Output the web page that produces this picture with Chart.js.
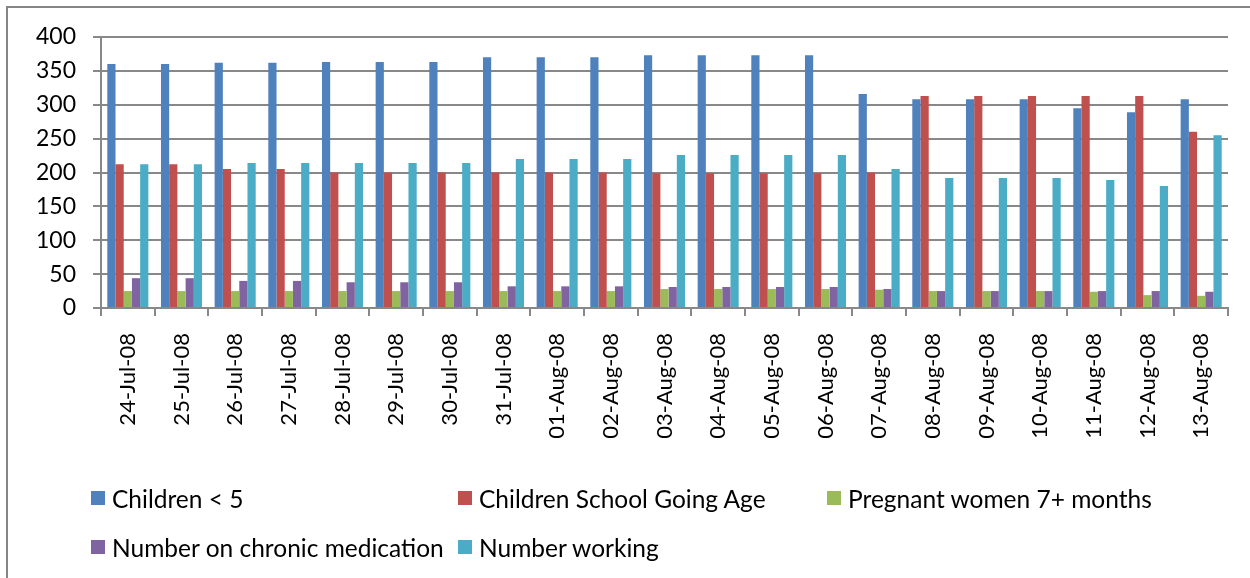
<!DOCTYPE html>
<html>
<head>
<meta charset="utf-8">
<script src="https://cdn.jsdelivr.net/npm/chart.js@4.4.1/dist/chart.umd.min.js"></script>
<style>
  html, body { margin: 0; padding: 0; background: #fff; }
  #wrap { position: relative; width: 1250px; height: 578px; overflow: hidden; }
  #frame { position: absolute; left: 6px; top: 6px; right: 0; bottom: 0;
           border-left: 2px solid #868686; border-top: 2px solid #868686; }
  #legend { position: absolute; left: 0; top: 0; width: 1250px; height: 578px; pointer-events: none; }
  .item { position: absolute; display: flex; align-items: center; height: 30px;
          font-family: Lato, sans-serif; font-size: 24.5px; color: #000; white-space: nowrap; }
  .box { width: 14px; height: 14px; margin-right: 7px; }
</style>
</head>
<body>
<div id="wrap">
  <canvas id="chart" width="1250" height="578"></canvas>
  <div id="frame"></div>
  <div id="legend"></div>
</div>
<script>
// ======================
// Data
// ======================
const dates = [
  "24-Jul-08", "25-Jul-08", "26-Jul-08", "27-Jul-08", "28-Jul-08", "29-Jul-08", "30-Jul-08",
  "31-Jul-08", "01-Aug-08", "02-Aug-08", "03-Aug-08", "04-Aug-08", "05-Aug-08", "06-Aug-08",
  "07-Aug-08", "08-Aug-08", "09-Aug-08", "10-Aug-08", "11-Aug-08", "12-Aug-08", "13-Aug-08"
];

const childrenUnder5 = [360, 360, 362, 362, 363, 363, 363, 370, 370, 370, 373, 373, 373, 373, 316, 308, 308, 308, 295, 289, 308];
const childrenSchool = [212, 212, 205, 205, 200, 200, 200, 200, 200, 200, 199, 199, 199, 199, 200, 313, 313, 313, 313, 313, 260];
const pregnantWomen  = [25, 25, 25, 25, 25, 25, 25, 25, 25, 25, 28, 28, 28, 28, 27, 25, 25, 25, 24, 19, 18];
const chronicMeds    = [44, 44, 40, 40, 38, 38, 38, 32, 32, 32, 31, 31, 31, 31, 28, 25, 25, 25, 25, 25, 24];
const numberWorking  = [212, 212, 214, 214, 214, 214, 214, 220, 220, 220, 226, 226, 226, 226, 205, 192, 192, 192, 189, 180, 255];

const yTicks = [0, 50, 100, 150, 200, 250, 300, 350, 400];

const seriesNames = [
  "Children < 5",
  "Children School Going Age",
  "Pregnant women 7+ months",
  "Number on chronic medication",
  "Number working"
];
const seriesColors = ["#4F81BD", "#C0504D", "#9BBB59", "#8064A2", "#4BACC6"];

// ======================
// Chart
// ======================
const gridGray = "#888888";
const seriesData = [childrenUnder5, childrenSchool, pregnantWomen, chronicMeds, numberWorking];

const chart = new Chart(document.getElementById("chart"), {
  type: "bar",
  data: {
    labels: dates,
    datasets: seriesData.map((values, i) => ({
      label: seriesNames[i],
      data: values,
      backgroundColor: seriesColors[i],
      borderWidth: 0,
      barPercentage: 1.0,
      categoryPercentage: 0.765
    }))
  },
  options: {
    responsive: false,
    animation: false,
    layout: { padding: { left: 0, top: 37, right: 22, bottom: 120 } },
    plugins: {
      legend: { display: false },
      tooltip: { enabled: false }
    },
    scales: {
      x: {
        offset: true,
        grid: { drawOnChartArea: false, drawTicks: true, tickLength: 8, color: gridGray, lineWidth: 2, offset: true },
        border: { color: gridGray, width: 2 },
        ticks: {
          autoSkip: false, minRotation: 90, maxRotation: 90, padding: 17,
          color: "#000", font: { family: "Lato", size: 22 }
        },
        afterFit: (axis) => { axis.height = 150; }
      },
      y: {
        min: 0, max: 400,
        afterBuildTicks: (axis) => { axis.ticks = yTicks.map(v => ({ value: v })); },
        grid: { color: gridGray, lineWidth: 2, tickLength: 8 },
        border: { color: gridGray, width: 2 },
        ticks: { padding: 17, color: "#000", font: { family: "Lato", size: 23 } },
        afterFit: (axis) => { axis.width = 101; }
      }
    }
  }
});

// ======================
// Legend (Excel style, two rows)
// ======================
function buildLegend() {
  const spots = [
    { x: 91, y: 498 }, { x: 458, y: 498 }, { x: 827, y: 498 },
    { x: 91, y: 547 }, { x: 458, y: 547 }
  ];
  const legend = document.getElementById("legend");
  chart.data.datasets.forEach((ds, i) => {
    const item = document.createElement("div");
    item.className = "item";
    item.style.left = spots[i].x + "px";
    item.style.top = (spots[i].y - 15) + "px";
    item.innerHTML = `<span class="box" style="background:${ds.backgroundColor}"></span><span>${ds.label}</span>`;
    legend.appendChild(item);
  });
}
buildLegend();
</script>
</body>
</html>
